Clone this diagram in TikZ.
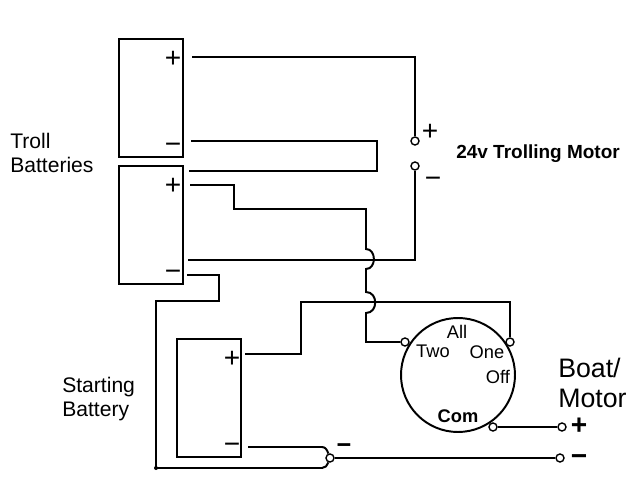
\documentclass[tikz,border=0pt]{standalone}
\usepackage{fontspec}
\setmainfont{Liberation Sans}
\newcommand{\autofontsize}[1]{\fontsize{#1}{\dimexpr #1*12/10}\selectfont}
\tikzstyle{wire}=[line width=1.4pt,line join=miter]
\tikzstyle{batt}=[draw,line width=1.4pt,minimum width=1.6cm,minimum height=2.95cm,inner sep=0pt]
\tikzstyle{term}=[draw,circle,line width=1pt,fill=white,inner sep=0pt,minimum size=0.2cm]
\tikzstyle{sign}=[inner sep=0pt,anchor=base,yshift=-0.23cm,font=\autofontsize{20pt}]
\tikzstyle{lab}=[inner sep=0pt,align=left,anchor=west,font=\autofontsize{15pt}]
\tikzstyle{swlab}=[inner sep=0pt,font=\autofontsize{13pt}]

\begin{document}
\begin{tikzpicture}[x=0.025cm,y=-0.025cm]
\useasboundingbox (0,0) rectangle (640,480);

% batteries
\node[batt] (battA) at (151,98) {};
\node[batt] (battB) at (151,225) {};
\node[batt] (battC) at (209,398) {};

\foreach \n/\x/\y in {plusA/173/58,plusB/173/185,plusC/232/358}
\node[sign] (\n) at (\x,\y) {+};
\foreach \n/\x/\y in {minusA/173/144,minusB/173/271,minusC/232/444}
\node[sign] (\n) at (\x,\y) {−};

% switch
\draw[wire] (458,375) circle (57);
\node[term] (tTwo) at (405,342) {};
\node[term] (tOne) at (510,342) {};
\node[term] (tCom) at (493,427) {};
\node[term] (tNeg) at (330,458) {};
\node[term] (tMotP) at (415,141) {};
\node[term] (tMotM) at (415,166) {};
\node[term] (tOutP) at (562,427) {};
\node[term] (tOutM) at (560,458) {};

% free ends and corners
\coordinate (aPlus) at (192,57);
\coordinate (aMinus) at (191,141);
\coordinate (linkR) at (377,171);
\coordinate (bLink) at (189,171);
\coordinate (bPlus) at (190,185);
\coordinate (bendA) at (234,209);
\coordinate (hopA) at (366,249);
\coordinate (hopB) at (366,269);
\coordinate (hopC) at (366,292);
\coordinate (hopD) at (366,313);
\coordinate (bMinus) at (188,260);
\coordinate (bLow) at (187,275);
\coordinate (dropR) at (219,301);
\coordinate (groundL) at (156,468);
\coordinate (groundR) at (322,468);
\coordinate (cPlus) at (245,354);
\coordinate (crossC) at (301,302);
\coordinate (cMinus) at (248,447);
\coordinate (cMinusR) at (322,447);

% wires
\draw[wire] (aPlus) -| (tMotP);
\draw[wire] (aMinus) -| (linkR) -- (bLink);
\draw[wire] (bPlus) -| (bendA) -| (hopA) to[out=0,in=0,looseness=1.35] (hopB) -- (hopC) to[out=0,in=0,looseness=1.5] (hopD) |- (tTwo);
\draw[wire] (bMinus) -| (tMotM);
\draw[wire] (bLow) -| (dropR) -| (groundL) -- (groundR) to[out=0,in=-110] (tNeg);
\draw[wire] (cPlus) -| (crossC) -| (tOne);
\draw[wire] (cMinus) -- (cMinusR) to[out=0,in=110] (tNeg);
\draw[wire] (tNeg) -- (tOutM);
\draw[wire] (tCom) -- (tOutP);
\fill (groundL) circle (2);

% labels
\node[lab] (troll) at (10,153) {Troll\\[-1.5pt]Batteries};
\node[lab] (start) at (62,399) {Starting\\[-1.5pt]Battery};
\node[lab,font=\autofontsize{19pt}] (boat) at (558,383) {Boat/\\[-1.5pt]Motor};
\node[lab,font=\autofontsize{13.5pt}\bfseries] (motor) at (456,154) {24v Trolling Motor};
\node[swlab] (all) at (457,332) {All};
\node[swlab] (two) at (433,351) {Two};
\node[swlab] (one) at (487,352) {One};
\node[swlab] (off) at (498,377) {Off};
\node[swlab,font=\autofontsize{13pt}\bfseries] (com) at (458,416) {Com};
\node[sign] (motP) at (430,131) {+};
\node[sign] (motM) at (433,178) {−};
\node[sign,font=\autofontsize{20pt}\bfseries] (outP) at (579,425) {+};
\node[sign,font=\autofontsize{20pt}\bfseries] (outM) at (579,456) {−};
\node[sign,font=\autofontsize{18pt}\bfseries] (negC) at (344,444) {−};

\end{tikzpicture}
\end{document}
